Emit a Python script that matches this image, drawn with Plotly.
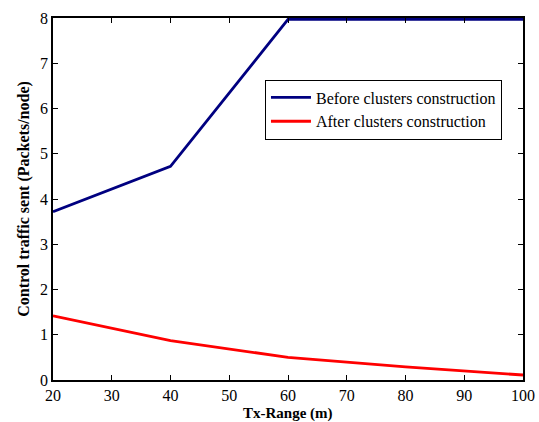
import plotly.graph_objects as go

tx_range = [20, 40, 60, 80, 100]
before = [3.72, 4.72, 7.97, 7.97, 7.97]
after = [1.42, 0.87, 0.50, 0.29, 0.11]

serif = "Liberation Serif"

fig = go.Figure()
fig.add_trace(go.Scatter(x=tx_range, y=before, mode="lines", name="Before clusters construction",
                         line=dict(color="#000080", width=2.8)))
fig.add_trace(go.Scatter(x=tx_range, y=after, mode="lines", name="After clusters construction",
                         line=dict(color="#ff0000", width=2.8)))

axis_common = dict(showline=True, linecolor="black", linewidth=1.5, mirror="ticks",
                   ticks="inside", ticklen=5, tickcolor="black", showgrid=False, zeroline=False,
                   automargin=False,
                   tickfont=dict(family=serif, size=16, color="black"))

fig.update_xaxes(range=[20, 100], dtick=10, ticklabelstandoff=0, **axis_common)
fig.update_yaxes(range=[0, 8], dtick=1, title=dict(text="<b>Control traffic sent (Packets/node)</b>", standoff=6,
                 font=dict(family=serif, size=16, color="black")), **axis_common)

fig.add_annotation(text="<b>Tx-Range (m)</b>", x=0.5, y=0, xref="paper", yref="paper",
                   xanchor="center", yanchor="top", yshift=-23, showarrow=False,
                   font=dict(family=serif, size=15, color="black"))

fig.update_layout(
    width=539, height=422,
    margin=dict(l=53, r=16, t=18, b=42),
    plot_bgcolor="white", paper_bgcolor="white",
    font=dict(family=serif),
    showlegend=True,
    legend=dict(x=0.451, y=0.83, xanchor="left", yanchor="top",
                bordercolor="black", borderwidth=1, bgcolor="white",
                font=dict(family=serif, size=16, color="black"),
                tracegroupgap=0, itemwidth=40),
)

fig.write_html("out.html")
